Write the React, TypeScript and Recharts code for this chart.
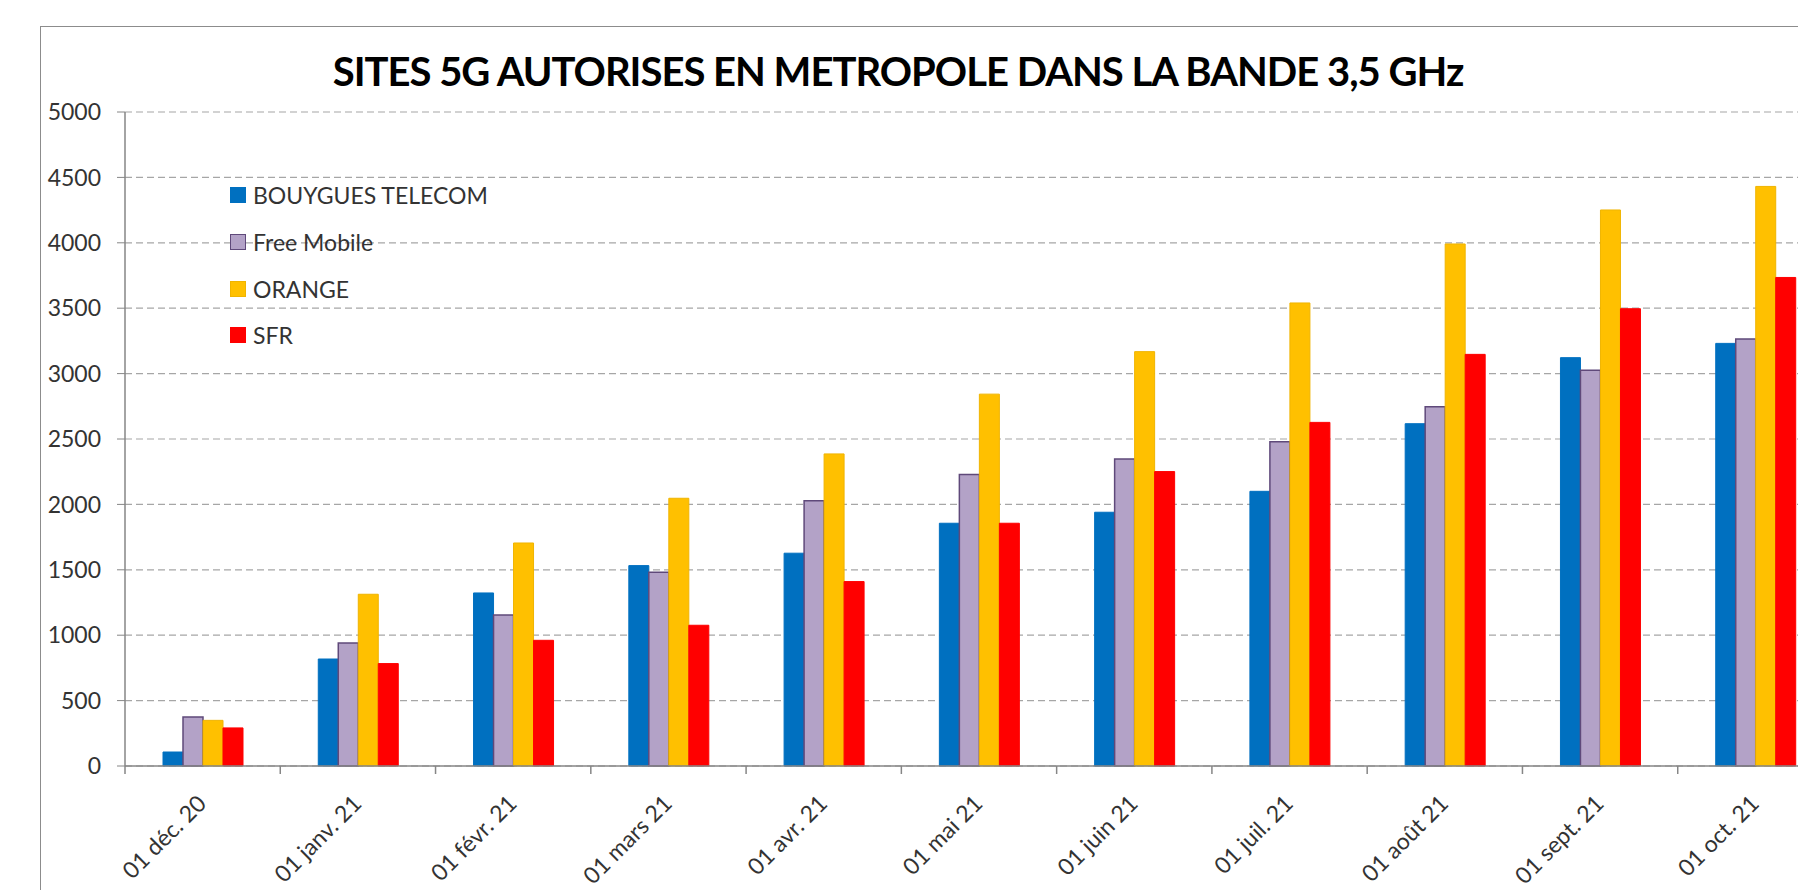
import React from 'react'

import { Bar, BarChart, CartesianGrid, Legend, XAxis, YAxis } from 'recharts'

const months = [
  '01 déc. 20',
  '01 janv. 21',
  '01 févr. 21',
  '01 mars 21',
  '01 avr. 21',
  '01 mai 21',
  '01 juin 21',
  '01 juil. 21',
  '01 août 21',
  '01 sept. 21',
  '01 oct. 21',
]

const bouygues = [107, 818, 1323, 1532, 1627, 1856, 1940, 2100, 2617, 3122, 3231]
const freeMobile = [375, 940, 1155, 1482, 2027, 2228, 2348, 2479, 2747, 3025, 3264]
const orange = [349, 1313, 1705, 2047, 2386, 2843, 3168, 3540, 3991, 4251, 4431]
const sfr = [291, 783, 961, 1076, 1410, 1856, 2251, 2627, 3147, 3496, 3735]

const yTicks = [0, 500, 1000, 1500, 2000, 2500, 3000, 3500, 4000, 4500, 5000]

const series = [
  { key: 'bouygues', name: 'BOUYGUES TELECOM', fill: '#0070C0', stroke: '#0070C0' },
  { key: 'free', name: 'Free Mobile', fill: '#B3A2C7', stroke: '#5F497A' },
  { key: 'orange', name: 'ORANGE', fill: '#FFC000', stroke: '#F0B400' },
  { key: 'sfr', name: 'SFR', fill: '#FF0000', stroke: '#FF0000' },
]

const data = months.map((month, i) => ({
  month,
  bouygues: bouygues[i],
  free: freeMobile[i],
  orange: orange[i],
  sfr: sfr[i],
}))

const FONT = 'Lato, "Open Sans", sans-serif'
const CHART_W = 1900
const CHART_H = 890

// month label rotated like Excel, plus a tick mark on the left band edge
function MonthTick(props: any) {
  const { x, y, payload } = props
  const half = payload.offset || 0
  const lx = x + 5
  const ly = y + 39
  return (
    <g>
      <line x1={x - half} y1={y} x2={x - half} y2={y + 8} stroke="#868686" strokeWidth={1.5} />
      <text
        x={lx}
        y={ly}
        transform={`rotate(-45, ${lx}, ${ly})`}
        textAnchor="end"
        fontFamily={FONT}
        fontSize={23}
        fill="#333"
      >
        {payload.value}
      </text>
    </g>
  )
}

function LegendBox({ payload }: any) {
  return (
    <div style={{ fontFamily: FONT, fontSize: 23, color: '#333' }}>
      {(payload || []).map((entry: any) => {
        const s = series.find((item) => item.key === entry.dataKey)
        return (
          <div
            key={entry.value}
            style={{ display: 'flex', alignItems: 'center', height: 46.7 }}
          >
            <span
              style={{
                display: 'inline-block',
                boxSizing: 'border-box',
                width: 16,
                height: 16,
                background: s ? s.fill : entry.color,
                border: `1.5px solid ${s ? s.stroke : entry.color}`,
                marginRight: 7,
              }}
            />
            {entry.value}
          </div>
        )
      })}
    </div>
  )
}

export default function App() {
  return (
    <div
      style={{
        position: 'absolute',
        left: 0,
        top: 0,
        width: 1798,
        height: 890,
        overflow: 'hidden',
        background: '#fff',
      }}
    >
      <div
        style={{
          position: 'absolute',
          left: 40,
          top: 26,
          width: 2000,
          height: 1000,
          border: '1.5px solid #8c8c8c',
        }}
      />
      <div
        style={{
          position: 'absolute',
          left: 0,
          top: 50,
          width: 1796,
          textAlign: 'center',
          fontFamily: FONT,
          fontWeight: 700,
          fontSize: 40,
          letterSpacing: -1,
          lineHeight: '42px',
          color: '#000',
        }}
      >
        SITES 5G AUTORISES EN METROPOLE DANS LA BANDE 3,5 GHz
      </div>
      <div style={{ position: 'absolute', left: 0, top: 0 }}>
        <BarChart
          width={CHART_W}
          height={CHART_H}
          data={data}
          margin={{ top: 112, right: 67, bottom: 94, left: 45 }}
          barGap={0}
          barSize={20}
        >
          <CartesianGrid
            vertical={false}
            stroke="#a6a6a6"
            strokeDasharray="7 4"
            strokeWidth={1.2}
          />
          <XAxis
            dataKey="month"
            height={30}
            interval={0}
            tickLine={false}
            tickSize={0}
            tickMargin={0}
            axisLine={{ stroke: '#868686', strokeWidth: 1.5 }}
            tick={<MonthTick />}
          />
          <YAxis
            width={80}
            domain={[0, 5000]}
            ticks={yTicks}
            interval={0}
            tickSize={8}
            tickMargin={16}
            axisLine={{ stroke: '#868686', strokeWidth: 1.5 }}
            tickLine={{ stroke: '#868686' }}
            tick={{ fontFamily: FONT, fontSize: 23, fill: '#333' }}
          />
          <Legend
            layout="horizontal"
            verticalAlign="middle"
            align="center"
            content={<LegendBox />}
            wrapperStyle={{ left: 230, top: 172, width: 320 }}
          />
          {series.map((s) => (
            <Bar
              key={s.key}
              dataKey={s.key}
              name={s.name}
              fill={s.fill}
              stroke={s.stroke}
              strokeWidth={s.key === 'free' ? 1.5 : 1}
              isAnimationActive={false}
            />
          ))}
        </BarChart>
      </div>
    </div>
  )
}
